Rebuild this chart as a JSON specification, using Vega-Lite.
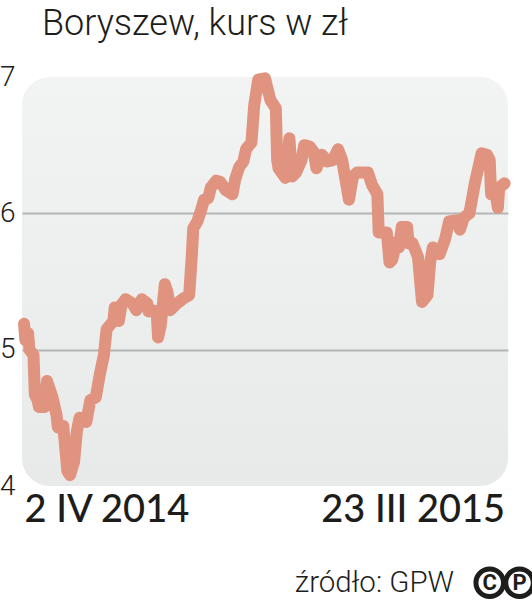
{"$schema":"https://vega.github.io/schema/vega-lite/v6.json","width":486,"height":409,"padding":{"left":22,"top":77,"right":24,"bottom":115},"autosize":"none","background":"white",
"title":{"text":"Boryszew, kurs w zł","anchor":"start","frame":"group","dx":20,"offset":20,"font":"Roboto","fontSize":36,"fontWeight":300,"color":"#1d1d1b"},
"view":{"stroke":null,"cornerRadius":28,"fill":{"x1":0,"y1":0,"x2":0,"y2":1,"gradient":"linear","stops":[{"offset":0,"color":"#f2f3f3"},{"offset":1,"color":"#e8e9e9"}]}},
"layer":[
{"data":{"values":[
{"d":"2014-04-02","v":5.19},{"d":"2014-04-03","v":5.07},{"d":"2014-04-05","v":5.12},{"d":"2014-04-06","v":5.0},{"d":"2014-04-09","v":4.96},{"d":"2014-04-10","v":4.67},{"d":"2014-04-12","v":4.63},{"d":"2014-04-13","v":4.58},{"d":"2014-04-17","v":4.58},{"d":"2014-04-19","v":4.77},{"d":"2014-04-21","v":4.71},{"d":"2014-04-23","v":4.65},{"d":"2014-04-26","v":4.52},{"d":"2014-04-27","v":4.43},{"d":"2014-05-01","v":4.44},{"d":"2014-05-04","v":4.11},{"d":"2014-05-06","v":4.08},{"d":"2014-05-09","v":4.18},{"d":"2014-05-11","v":4.4},{"d":"2014-05-13","v":4.5},{"d":"2014-05-18","v":4.47},{"d":"2014-05-21","v":4.63},{"d":"2014-05-25","v":4.65},{"d":"2014-05-28","v":4.82},{"d":"2014-05-31","v":4.96},{"d":"2014-06-02","v":5.15},{"d":"2014-06-07","v":5.21},{"d":"2014-06-08","v":5.31},{"d":"2014-06-11","v":5.21},{"d":"2014-06-13","v":5.33},{"d":"2014-06-16","v":5.37},{"d":"2014-06-21","v":5.34},{"d":"2014-06-24","v":5.29},{"d":"2014-06-28","v":5.37},{"d":"2014-07-02","v":5.34},{"d":"2014-07-03","v":5.28},{"d":"2014-07-05","v":5.29},{"d":"2014-07-09","v":5.28},{"d":"2014-07-10","v":5.09},{"d":"2014-07-12","v":5.18},{"d":"2014-07-15","v":5.48},{"d":"2014-07-17","v":5.42},{"d":"2014-07-19","v":5.29},{"d":"2014-07-23","v":5.33},{"d":"2014-07-28","v":5.37},{"d":"2014-08-02","v":5.4},{"d":"2014-08-04","v":5.7},{"d":"2014-08-05","v":5.89},{"d":"2014-08-08","v":5.94},{"d":"2014-08-11","v":6.03},{"d":"2014-08-13","v":6.1},{"d":"2014-08-16","v":6.11},{"d":"2014-08-18","v":6.19},{"d":"2014-08-22","v":6.24},{"d":"2014-08-25","v":6.23},{"d":"2014-08-29","v":6.17},{"d":"2014-09-03","v":6.14},{"d":"2014-09-05","v":6.25},{"d":"2014-09-08","v":6.34},{"d":"2014-09-11","v":6.38},{"d":"2014-09-13","v":6.47},{"d":"2014-09-17","v":6.52},{"d":"2014-09-19","v":6.79},{"d":"2014-09-22","v":6.98},{"d":"2014-09-27","v":6.99},{"d":"2014-10-01","v":6.83},{"d":"2014-10-05","v":6.77},{"d":"2014-10-06","v":6.39},{"d":"2014-10-07","v":6.33},{"d":"2014-10-12","v":6.26},{"d":"2014-10-15","v":6.55},{"d":"2014-10-17","v":6.27},{"d":"2014-10-20","v":6.3},{"d":"2014-10-24","v":6.39},{"d":"2014-10-26","v":6.5},{"d":"2014-10-30","v":6.49},{"d":"2014-11-02","v":6.45},{"d":"2014-11-04","v":6.33},{"d":"2014-11-08","v":6.43},{"d":"2014-11-12","v":6.38},{"d":"2014-11-16","v":6.39},{"d":"2014-11-20","v":6.47},{"d":"2014-11-23","v":6.39},{"d":"2014-11-28","v":6.1},{"d":"2014-12-01","v":6.27},{"d":"2014-12-04","v":6.3},{"d":"2014-12-12","v":6.3},{"d":"2014-12-15","v":6.21},{"d":"2014-12-19","v":6.14},{"d":"2014-12-20","v":5.86},{"d":"2014-12-26","v":5.86},{"d":"2014-12-28","v":5.64},{"d":"2014-12-30","v":5.66},{"d":"2015-01-02","v":5.79},{"d":"2015-01-04","v":5.75},{"d":"2015-01-06","v":5.9},{"d":"2015-01-10","v":5.9},{"d":"2015-01-11","v":5.78},{"d":"2015-01-14","v":5.78},{"d":"2015-01-18","v":5.68},{"d":"2015-01-21","v":5.35},{"d":"2015-01-25","v":5.4},{"d":"2015-01-27","v":5.64},{"d":"2015-01-29","v":5.75},{"d":"2015-02-03","v":5.7},{"d":"2015-02-07","v":5.81},{"d":"2015-02-10","v":5.94},{"d":"2015-02-16","v":5.95},{"d":"2015-02-18","v":5.88},{"d":"2015-02-21","v":5.97},{"d":"2015-02-25","v":6.0},{"d":"2015-03-01","v":6.22},{"d":"2015-03-06","v":6.44},{"d":"2015-03-10","v":6.43},{"d":"2015-03-12","v":6.39},{"d":"2015-03-13","v":6.14},{"d":"2015-03-16","v":6.17},{"d":"2015-03-18","v":6.04},{"d":"2015-03-19","v":6.19},{"d":"2015-03-23","v":6.22}
]},
"mark":{"type":"line","color":"#e0937e","strokeWidth":12,"strokeCap":"round","strokeJoin":"round","clip":false},
"encoding":{
"x":{"field":"d","type":"temporal","title":null,"scale":{"type":"utc","domain":["2014-03-31T12:00:00Z","2015-03-25T12:00:00Z"]},
"axis":{"values":["2014-04-02","2015-03-23"],"labelExpr":"utcyear(datum.value)==2014?'2 IV 2014':'23 III 2015'","labelFlush":6,"labelLimit":300,"labelFont":"Lato","labelFontSize":38,"labelFontWeight":500,"labelColor":"#1d1d1b","labelPadding":5,"ticks":false,"domain":false,"grid":false,"labelOverlap":false}},
"y":{"field":"v","type":"quantitative","title":null,"scale":{"domain":[4,7],"nice":false,"zero":false},
"axis":{"values":[4,5,6,7],"format":"d","labelFont":"Roboto","labelFontSize":28,"labelFontWeight":300,"labelColor":"#1d1d1b","labelPadding":7,"ticks":false,"domain":false,"grid":true,"gridColor":"#b4b6b6","gridWidth":2,"gridOpacity":{"condition":{"test":"datum.value==5||datum.value==6","value":1},"value":0},"labelOverlap":false}}
}},
{"data":{"values":[{"d":"2014-10-19","v":3.29,"t":"źródło: GPW"}]},
"mark":{"type":"text","align":"left","baseline":"middle","font":"Roboto","fontSize":29.5,"fontWeight":300,"color":"#1d1d1b"},
"encoding":{"x":{"field":"d","type":"temporal"},"y":{"field":"v","type":"quantitative"},"text":{"field":"t"}}},
{"data":{"values":[{"d":"2015-03-12","v":3.29,"t":"C"},{"d":"2015-04-03","v":3.29,"t":"P"}]},
"layer":[
{"mark":{"type":"point","shape":"circle","size":760,"filled":false,"stroke":"#1d1d1b","strokeWidth":5,"opacity":1},
"encoding":{"x":{"field":"d","type":"temporal"},"y":{"field":"v","type":"quantitative"}}},
{"mark":{"type":"text","align":"center","baseline":"middle","font":"Roboto","fontSize":22,"fontWeight":"bold","color":"#1d1d1b"},
"encoding":{"x":{"field":"d","type":"temporal"},"y":{"field":"v","type":"quantitative"},"text":{"field":"t"}}}
]}
]}
